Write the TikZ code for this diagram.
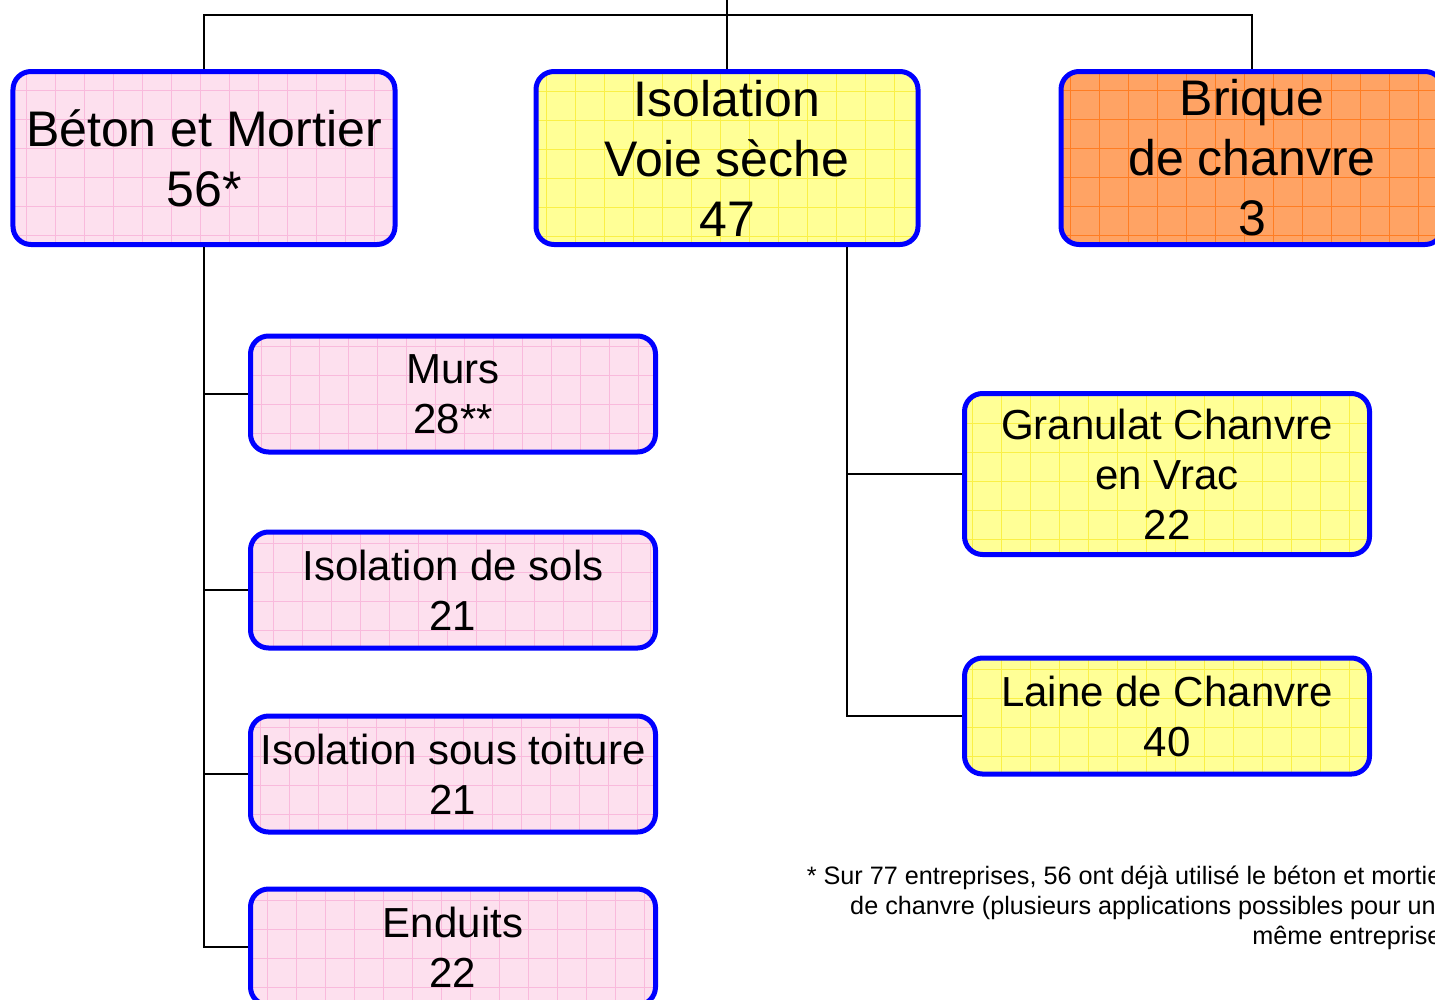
\documentclass[tikz,border=0pt]{standalone}
\usepackage{fontspec}
\setmainfont{Liberation Sans}
\usetikzlibrary{positioning}
\definecolor{rosefond}{RGB}{253,224,238}
\definecolor{roseligne}{RGB}{249,186,220}
\definecolor{jaunefond}{RGB}{255,255,150}
\definecolor{jauneligne}{RGB}{250,240,70}
\definecolor{orangefond}{RGB}{255,163,100}
\definecolor{orangeligne}{RGB}{255,125,35}
\tikzset{
  boite/.style 2 args={draw=blue, line width=5bp, rounded corners=18bp,
    fill=#1, inner sep=0pt, align=center,
    path picture={\draw[#2, line width=0.8bp]
      (path picture bounding box.south west) grid[step=29bp]
      (path picture bounding box.north east);}},
  grande/.style={minimum width=382bp, minimum height=173bp,
    font=\fontsize{50bp}{60bp}\selectfont},
  petite/.style={minimum width=405bp, minimum height=116bp,
    font=\fontsize{42bp}{50bp}\selectfont},
  lien/.style={line width=1.5bp}
}
\begin{document}
\begin{tikzpicture}[x=1bp, y=-1bp]
    \useasboundingbox (0,0) rectangle (1435,999);
    % 
    \node[boite={rosefond}{roseligne}, grande] (beton) at (204,158) {B\'eton et Mortier\\56*};
    % 
    \node[boite={jaunefond}{jauneligne}, grande] (isol) at (727,158) {Isolation\\Voie s\`eche\\47};
    % 
    \node[boite={orangefond}{orangeligne}, grande] (brique) at (1252,158) {Brique\\de chanvre\\3};
    %%%%%%%%%%%%%%%%%%%%%% 
    \node[boite={rosefond}{roseligne}, petite] (murs) at (453,394) {Murs\\28**};
    % 
    \node[boite={rosefond}{roseligne}, petite] (sols) at (453,590) {Isolation de sols\\21};
    % 
    \node[boite={rosefond}{roseligne}, petite] (toiture) at (453,774) {Isolation sous toiture\\21};
    % 
    \node[boite={rosefond}{roseligne}, petite] (enduits) at (453,947) {Enduits\\22};
    %%%%%%%%%%%%%%%%%%%%%% 
    \node[boite={jaunefond}{jauneligne}, petite, minimum height=161bp] (granulat) at (1167,474) {Granulat Chanvre\\en Vrac\\22};
    % 
    \node[boite={jaunefond}{jauneligne}, petite] (laine) at (1167,716) {Laine de Chanvre\\40};
    %%%%%%%%%%%%%%%%%%%%%% 
    \coordinate (racine) at (727,15);
    \coordinate (haut) at (727,0);
    % 
    \draw[lien] (beton.north) |- (racine) -| (brique.north);
    \draw[lien] (isol.north) -- (racine) -- (haut);
    % 
    \foreach \sous in {murs,sols,toiture,enduits}
      \draw[lien] (beton.south) |- (\sous.west);
    % 
    \foreach \sous in {granulat,laine}
      \draw[lien] ([xshift=120bp]isol.south) |- (\sous.west);
    %%%%%%%%%%%%%%%%%%%%%% 
    \node[align=right, anchor=east, inner sep=0pt, font=\fontsize{25.2bp}{30bp}\selectfont] (note) at (1450,908)
      {* Sur 77 entreprises, 56 ont d\'ej\`a utilis\'e le b\'eton et mortier\\
       de chanvre (plusieurs applications possibles pour une\\
       m\^eme entreprise)};
  \end{tikzpicture}
\end{document}
